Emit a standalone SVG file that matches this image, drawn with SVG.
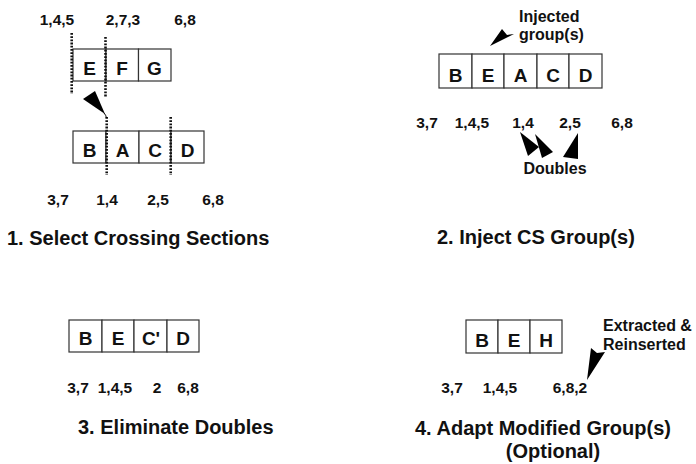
<svg xmlns="http://www.w3.org/2000/svg" width="696" height="464" viewBox="0 0 696 464">
  <style>
    text { font-family: "Liberation Sans", Arial, Helvetica, sans-serif; font-weight: bold; fill: #111; }
    .cell { fill: #fff; stroke: #333; stroke-width: 1.2; }
    .letter { font-size: 19px; text-anchor: middle; }
    .num { font-size: 15.5px; text-anchor: middle; }
    .note { font-size: 16px; }
    .title { font-size: 20px; }
    .cut { stroke: #111; stroke-width: 2.6; stroke-dasharray: 1.8 1.4; fill: none; }
    .wedge { fill: #000; stroke: none; }
  </style>

  <rect width="696" height="464" fill="#fff"/>

  <!-- Step 1: select crossing sections -->
  <g id="step1-top">
    <rect class="cell" x="73" y="49" width="33" height="32"/>
    <rect class="cell" x="106" y="49" width="32.5" height="32"/>
    <rect class="cell" x="138.5" y="49" width="32.5" height="32"/>
    <text class="letter" x="89.5" y="75">E</text>
    <text class="letter" x="122" y="75">F</text>
    <text class="letter" x="154.5" y="75">G</text>
    <text class="num" x="57" y="25">1,4,5</text>
    <text class="num" x="123" y="25">2,7,3</text>
    <text class="num" x="185" y="25">6,8</text>
  </g>
  <g id="step1-bottom">
    <rect class="cell" x="73" y="131" width="33" height="32"/>
    <rect class="cell" x="106" y="131" width="33" height="32"/>
    <rect class="cell" x="139" y="131" width="32" height="32"/>
    <rect class="cell" x="171" y="131" width="33" height="32"/>
    <text class="letter" x="89.5" y="157">B</text>
    <text class="letter" x="122.5" y="157">A</text>
    <text class="letter" x="155" y="157">C</text>
    <text class="letter" x="187.5" y="157">D</text>
    <text class="num" x="58" y="205">3,7</text>
    <text class="num" x="107" y="205">1,4</text>
    <text class="num" x="158" y="205">2,5</text>
    <text class="num" x="213" y="205">6,8</text>
  </g>
  <text id="title1" class="title" x="7" y="245">1. Select Crossing Sections</text>

  <!-- Step 2: inject CS groups -->
  <g id="step2-row">
    <rect class="cell" x="439" y="54" width="33" height="34"/>
    <rect class="cell" x="472" y="54" width="32" height="34"/>
    <rect class="cell" x="504" y="54" width="33" height="34"/>
    <rect class="cell" x="537" y="54" width="32" height="34"/>
    <rect class="cell" x="569" y="54" width="33" height="34"/>
    <text class="letter" x="455.5" y="82">B</text>
    <text class="letter" x="488" y="82">E</text>
    <text class="letter" x="520.5" y="82">A</text>
    <text class="letter" x="553" y="82">C</text>
    <text class="letter" x="585.5" y="82">D</text>
    <text class="num" x="427" y="128">3,7</text>
    <text class="num" x="472" y="128">1,4,5</text>
    <text class="num" x="523" y="128">1,4</text>
    <text class="num" x="570" y="128">2,5</text>
    <text class="num" x="622" y="128">6,8</text>
  </g>
  <g id="step2-injected">
    <text class="note" x="519" y="22">Injected</text>
    <text class="note" x="519" y="40">group(s)</text>
  </g>
  <text id="step2-doubles" class="note" x="555" y="174" text-anchor="middle">Doubles</text>
  <text id="title2" class="title" x="437" y="244">2. Inject CS Group(s)</text>

  <!-- Step 3: eliminate doubles -->
  <g id="step3-row">
    <rect class="cell" x="69" y="320" width="33" height="32"/>
    <rect class="cell" x="102" y="320" width="32" height="32"/>
    <rect class="cell" x="134" y="320" width="33" height="32"/>
    <rect class="cell" x="167" y="320" width="32" height="32"/>
    <text class="letter" x="85.5" y="345">B</text>
    <text class="letter" x="118" y="345">E</text>
    <text class="letter" x="151" y="345">C'</text>
    <text class="letter" x="183" y="345">D</text>
    <text class="num" x="78" y="393">3,7</text>
    <text class="num" x="115" y="393">1,4,5</text>
    <text class="num" x="157" y="393">2</text>
    <text class="num" x="188" y="393">6,8</text>
  </g>
  <text id="title3" class="title" x="78" y="434">3. Eliminate Doubles</text>

  <!-- Step 4: adapt modified groups -->
  <g id="step4-row">
    <rect class="cell" x="466" y="320" width="32" height="33"/>
    <rect class="cell" x="498" y="320" width="32" height="33"/>
    <rect class="cell" x="530" y="320" width="32" height="33"/>
    <text class="letter" x="482" y="347">B</text>
    <text class="letter" x="514" y="347">E</text>
    <text class="letter" x="546" y="347">H</text>
    <text class="num" x="452" y="393">3,7</text>
    <text class="num" x="500" y="393">1,4,5</text>
    <text class="num" x="570" y="393">6,8,2</text>
  </g>
  <g id="step4-note">
    <text class="note" x="603" y="331">Extracted &amp;</text>
    <text class="note" x="603" y="350">Reinserted</text>
  </g>
  <g id="title4">
    <text class="title" x="415" y="435">4. Adapt Modified Group(s)</text>
    <text class="title" x="553" y="458" text-anchor="middle">(Optional)</text>
  </g>

  <!-- Connectors: section cuts and pointer wedges -->
  <g id="connectors">
    <line class="cut" x1="71.7" y1="33" x2="71.7" y2="94"/>
    <line class="cut" x1="105.5" y1="37" x2="105.5" y2="97"/>
    <line class="cut" x1="106.7" y1="117" x2="106.7" y2="175"/>
    <line class="cut" x1="170.7" y1="117" x2="170.7" y2="175"/>
    <path d="M104 113 Q106 115 106.5 118" fill="none" stroke="#000" stroke-width="1"/>
    <polygon class="wedge" points="83,99 95,91 105,114"/>
    <polygon class="wedge" points="490,46 502,29 507,35 514,34"/>
    <polygon class="wedge" points="520,132 528,156 539,147"/>
    <polygon class="wedge" points="535,134 542,158 553,152"/>
    <polygon class="wedge" points="578,133 563,157 578,159"/>
    <polygon class="wedge" points="587,380 591,348 597,353 605,352"/>
  </g>
</svg>
